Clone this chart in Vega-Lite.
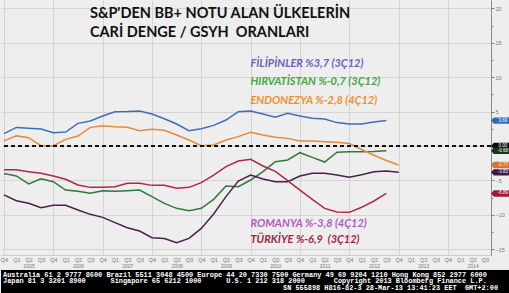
{
  "$schema": "https://vega.github.io/schema/vega-lite/v6.json",
  "width": 490,
  "height": 255,
  "padding": 0,
  "autosize": {"type": "pad"},
  "background": "#eeeeee",
  "config": {
    "view": {"stroke": null, "fill": "#eeeeee"},
    "axis": {"labelFont": "Liberation Sans", "labelColor": "#6a6a6a", "title": null}
  },
  "datasets": {
    "series": [
      {"t": 0, "FIL": 1.8, "END": 0.75, "HIR": -4.0, "ROM": -7.1, "TUR": -3.45},
      {"t": 1, "FIL": 2.7, "END": 1.5, "HIR": -4.35, "ROM": -7.95, "TUR": -3.45},
      {"t": 2, "FIL": 2.57, "END": 1.21, "HIR": -5.5, "ROM": -8.33, "TUR": -3.73},
      {"t": 3, "FIL": 2.47, "END": 0.05, "HIR": -4.75, "ROM": -8.96, "TUR": -3.97},
      {"t": 4, "FIL": 1.94, "END": 0.05, "HIR": -5.18, "ROM": -8.62, "TUR": -4.36},
      {"t": 5, "FIL": 2.03, "END": 0.97, "HIR": -6.4, "ROM": -8.62, "TUR": -4.84},
      {"t": 6, "FIL": 3.29, "END": 1.45, "HIR": -6.59, "ROM": -9.3, "TUR": -5.67},
      {"t": 7, "FIL": 3.63, "END": 2.71, "HIR": -6.88, "ROM": -9.93, "TUR": -6.01},
      {"t": 8, "FIL": 4.36, "END": 2.96, "HIR": -6.49, "ROM": -10.37, "TUR": -6.01},
      {"t": 9, "FIL": 4.99, "END": 2.81, "HIR": -6.59, "ROM": -11.14, "TUR": -5.91},
      {"t": 10, "FIL": 5.0, "END": 2.71, "HIR": -6.49, "ROM": -11.87, "TUR": -5.43},
      {"t": 11, "FIL": 5.09, "END": 2.23, "HIR": -6.4, "ROM": -12.35, "TUR": -5.43},
      {"t": 12, "FIL": 4.65, "END": 2.42, "HIR": -7.36, "ROM": -13.32, "TUR": -5.72},
      {"t": 13, "FIL": 3.97, "END": 2.28, "HIR": -8.33, "ROM": -13.45, "TUR": -5.72},
      {"t": 14, "FIL": 3.2, "END": 1.6, "HIR": -9.06, "ROM": -14.05, "TUR": -6.15},
      {"t": 15, "FIL": 2.23, "END": 0.87, "HIR": -9.4, "ROM": -13.42, "TUR": -6.01},
      {"t": 16, "FIL": 2.52, "END": 0.05, "HIR": -9.06, "ROM": -11.97, "TUR": -5.33},
      {"t": 17, "FIL": 3.0, "END": 0.15, "HIR": -7.75, "ROM": -9.88, "TUR": -4.22},
      {"t": 18, "FIL": 3.78, "END": 0.87, "HIR": -5.81, "ROM": -7.36, "TUR": -3.0},
      {"t": 19, "FIL": 4.99, "END": 1.36, "HIR": -5.91, "ROM": -5.09, "TUR": -2.18},
      {"t": 20, "FIL": 5.09, "END": 1.99, "HIR": -4.94, "ROM": -4.22, "TUR": -1.94},
      {"t": 21, "FIL": 4.65, "END": 1.6, "HIR": -3.73, "ROM": -4.8, "TUR": -2.91},
      {"t": 22, "FIL": 4.17, "END": 1.26, "HIR": -2.28, "ROM": -5.18, "TUR": -3.68},
      {"t": 23, "FIL": 4.75, "END": 1.11, "HIR": -2.03, "ROM": -5.18, "TUR": -5.04},
      {"t": 24, "FIL": 4.36, "END": 0.73, "HIR": -0.97, "ROM": -4.36, "TUR": -6.4},
      {"t": 25, "FIL": 4.02, "END": 0.73, "HIR": -1.65, "ROM": -3.97, "TUR": -7.75},
      {"t": 26, "FIL": 3.92, "END": 0.63, "HIR": -2.33, "ROM": -3.97, "TUR": -9.06},
      {"t": 27, "FIL": 3.4, "END": 0.55, "HIR": -0.9, "ROM": -4.22, "TUR": -9.6},
      {"t": 28, "FIL": 3.2, "END": 0.35, "HIR": -0.82, "ROM": -4.55, "TUR": -9.64},
      {"t": 29, "FIL": 3.2, "END": -0.5, "HIR": -0.82, "ROM": -4.17, "TUR": -8.91},
      {"t": 30, "FIL": 3.5, "END": -1.35, "HIR": -0.78, "ROM": -3.73, "TUR": -7.99},
      {"t": 31, "FIL": 3.69, "END": -2.1, "HIR": -0.68, "ROM": -3.63, "TUR": -6.89},
      {"t": 32, "END": -2.77, "ROM": -3.83}
    ],
    "tags": [
      {"k": "FIL", "v": 3.69, "lab": "3.69"},
      {"k": "ZERO", "v": 0, "lab": "0.00"},
      {"k": "HIR", "v": -0.68, "lab": "-0.68"},
      {"k": "END", "v": -2.77, "lab": "-2.77"},
      {"k": "ROM", "v": -3.83, "lab": "-3.83"},
      {"k": "TUR", "v": -6.89, "lab": "-6.89"}
    ]
  },
  "resolve": {"axis": {"x": "independent", "y": "independent"}, "scale": {"color": "independent"}},
  "layer": [
    {
      "data": {"values": [{}]},
      "mark": {"type": "point", "opacity": 0},
      "encoding": {
        "x": {"datum": 0, "type": "quantitative", "scale": {"domain": [-0.243, 39.49], "nice": false, "zero": false},
          "axis": {"orient": "bottom", "values": [2, 6, 10, 14, 18, 22, 26, 30, 34, 38], "labelExpr": "'' + (2005 + (datum.value - 2) / 4)", "ticks": false, "domain": false, "grid": false, "labelPadding": 8, "labelFontSize": 5, "labelColor": "#777777"}},
        "y": {"datum": 0, "type": "quantitative", "scale": {"domain": [-15.84, 21.22], "nice": false, "zero": false},
          "axis": {"orient": "right", "values": [-12.5, -7.5, -2.5, 2.5, 7.5, 12.5, 17.5], "labels": false, "grid": false, "domain": false, "ticks": true, "tickSize": 2, "tickColor": "#888888"}}
      }
    },
    {
      "data": {"name": "series"},
      "transform": [
        {"fold": ["FIL", "HIR", "END", "ROM", "TUR"], "as": ["c", "v"]},
        {"filter": "isValid(datum.v)"}
      ],
      "mark": {"type": "line", "strokeWidth": 1.5},
      "encoding": {
        "x": {"field": "t", "type": "quantitative", "scale": {"domain": [-0.243, 39.49], "nice": false, "zero": false},
          "axis": {"orient": "bottom", "values": [0,1,2,3,4,5,6,7,8,9,10,11,12,13,14,15,16,17,18,19,20,21,22,23,24,25,26,27,28,29,30,31,32,33,34,35,36,37,38,39],
            "labelExpr": "'Q' + ((datum.value + 3) % 4 + 1)", "ticks": false, "domain": true, "domainColor": "#cccccc", "labelPadding": 2, "labelFontSize": 5.5, "labelColor": "#777777",
            "grid": true, "gridColor": "#d4d4d4", "gridOpacity": {"condition": {"test": "datum.value % 4 === 0", "value": 1}, "value": 0}}},
        "y": {"field": "v", "type": "quantitative", "scale": {"domain": [-15.84, 21.22], "nice": false, "zero": false},
          "axis": {"orient": "right", "values": [-15, -10, -5, 0, 5, 10, 15, 20], "labelExpr": "datum.value == 0 ? '' : datum.label", "grid": true, "gridColor": "#d4d4d4",
            "domain": true, "domainColor": "#8a8a8a", "tickSize": 3, "tickColor": "#777777", "labelFontSize": 5.5, "labelPadding": 1, "labelColor": "#777777"}},
        "color": {"field": "c", "type": "nominal", "legend": null,
          "scale": {"domain": ["FIL", "HIR", "END", "ROM", "TUR"], "range": ["#3c6fb6", "#2f7a37", "#e8883a", "#4a1f48", "#ac284c"]}}
      }
    },
    {
      "data": {"values": [{}]},
      "mark": {"type": "rule", "color": "#111111", "strokeDash": [4, 3], "strokeWidth": 2},
      "encoding": {
        "y": {"datum": 0, "type": "quantitative", "scale": {"domain": [-15.84, 21.22], "nice": false, "zero": false}, "axis": null}
      }
    },
    {
      "data": {"name": "tags"},
      "mark": {"type": "point", "filled": true, "opacity": 1, "size": 361, "shape": "M -1 0 L -0.72 -0.34 L 1 -0.34 L 1 0.34 L -0.72 0.34 Z"},
      "encoding": {
        "x": {"datum": 40.27, "type": "quantitative", "scale": {"domain": [-0.243, 39.49], "nice": false, "zero": false}, "axis": null},
        "y": {"field": "v", "type": "quantitative", "scale": {"domain": [-15.84, 21.22], "nice": false, "zero": false}, "axis": null},
        "color": {"field": "k", "type": "nominal", "legend": null,
          "scale": {"domain": ["FIL", "ZERO", "HIR", "END", "ROM", "TUR"], "range": ["#2b6cb4", "#0c0c0c", "#15361a", "#e0702a", "#3a1840", "#9e1a32"]}}
      }
    },
    {
      "data": {"name": "tags"},
      "mark": {"type": "text", "fontSize": 4.5, "font": "Liberation Sans", "color": "#ffffff", "align": "center", "baseline": "middle"},
      "encoding": {
        "x": {"datum": 40.45, "type": "quantitative", "scale": {"domain": [-0.243, 39.49], "nice": false, "zero": false}, "axis": null},
        "y": {"field": "v", "type": "quantitative", "scale": {"domain": [-15.84, 21.22], "nice": false, "zero": false}, "axis": null},
        "text": {"field": "lab"}
      }
    },
    {
      "data": {"values": [{}]},
      "mark": {"type": "text", "text": "S&P'DEN BB+ NOTU ALAN ÜLKELERİN", "font": "Lato", "fontWeight": "bold", "fontSize": 14.5, "color": "#111111", "align": "left", "baseline": "alphabetic"},
      "encoding": {
        "x": {"datum": 6.97, "type": "quantitative", "scale": {"domain": [-0.243, 39.49], "nice": false, "zero": false}, "axis": null},
        "y": {"datum": 18.56, "type": "quantitative", "scale": {"domain": [-15.84, 21.22], "nice": false, "zero": false}, "axis": null}
      }
    },
    {
      "data": {"values": [{}]},
      "mark": {"type": "text", "text": "CARİ DENGE / GSYH\u00a0\u00a0ORANLARI", "font": "Lato", "fontWeight": "bold", "fontSize": 14.5, "color": "#111111", "align": "left", "baseline": "alphabetic"},
      "encoding": {
        "x": {"datum": 6.97, "type": "quantitative", "scale": {"domain": [-0.243, 39.49], "nice": false, "zero": false}, "axis": null},
        "y": {"datum": 15.8, "type": "quantitative", "scale": {"domain": [-15.84, 21.22], "nice": false, "zero": false}, "axis": null}
      }
    },
    {
      "data": {"values": [{}]},
      "mark": {"type": "text", "text": "FİLİPİNLER %3,7 (3Ç12)", "font": "Lato", "fontWeight": "bold", "fontStyle": "italic", "fontSize": 11, "color": "#6a62b8", "align": "left", "baseline": "alphabetic"},
      "encoding": {
        "x": {"datum": 19.98, "type": "quantitative", "scale": {"domain": [-0.243, 39.49], "nice": false, "zero": false}, "axis": null},
        "y": {"datum": 11.44, "type": "quantitative", "scale": {"domain": [-15.84, 21.22], "nice": false, "zero": false}, "axis": null}
      }
    },
    {
      "data": {"values": [{}]},
      "mark": {"type": "text", "text": "HIRVATİSTAN %-0,7 (3Ç12)", "font": "Lato", "fontWeight": "bold", "fontStyle": "italic", "fontSize": 11, "color": "#45a445", "align": "left", "baseline": "alphabetic"},
      "encoding": {
        "x": {"datum": 19.98, "type": "quantitative", "scale": {"domain": [-0.243, 39.49], "nice": false, "zero": false}, "axis": null},
        "y": {"datum": 8.82, "type": "quantitative", "scale": {"domain": [-15.84, 21.22], "nice": false, "zero": false}, "axis": null}
      }
    },
    {
      "data": {"values": [{}]},
      "mark": {"type": "text", "text": "ENDONEZYA %-2,8 (4Ç12)", "font": "Lato", "fontWeight": "bold", "fontStyle": "italic", "fontSize": 11, "color": "#ee8e2e", "align": "left", "baseline": "alphabetic"},
      "encoding": {
        "x": {"datum": 19.98, "type": "quantitative", "scale": {"domain": [-0.243, 39.49], "nice": false, "zero": false}, "axis": null},
        "y": {"datum": 6.15, "type": "quantitative", "scale": {"domain": [-15.84, 21.22], "nice": false, "zero": false}, "axis": null}
      }
    },
    {
      "data": {"values": [{}]},
      "mark": {"type": "text", "text": "ROMANYA %-3,8 (4Ç12)", "font": "Lato", "fontWeight": "bold", "fontStyle": "italic", "fontSize": 11, "color": "#b15cc0", "align": "left", "baseline": "alphabetic"},
      "encoding": {
        "x": {"datum": 19.98, "type": "quantitative", "scale": {"domain": [-0.243, 39.49], "nice": false, "zero": false}, "axis": null},
        "y": {"datum": -11.82, "type": "quantitative", "scale": {"domain": [-15.84, 21.22], "nice": false, "zero": false}, "axis": null}
      }
    },
    {
      "data": {"values": [{}]},
      "mark": {"type": "text", "text": "TÜRKİYE %-6,9\u00a0\u00a0(3Ç12)", "font": "Lato", "fontWeight": "bold", "fontStyle": "italic", "fontSize": 11, "color": "#a8233c", "align": "left", "baseline": "alphabetic"},
      "encoding": {
        "x": {"datum": 19.98, "type": "quantitative", "scale": {"domain": [-0.243, 39.49], "nice": false, "zero": false}, "axis": null},
        "y": {"datum": -14.05, "type": "quantitative", "scale": {"domain": [-15.84, 21.22], "nice": false, "zero": false}, "axis": null}
      }
    },
    {
      "data": {"values": [{}]},
      "mark": {"type": "rect", "color": "#000000"},
      "encoding": {
        "x": {"datum": -0.243, "type": "quantitative", "scale": {"domain": [-0.243, 39.49], "nice": false, "zero": false}, "axis": null},
        "x2": {"datum": 41.04},
        "y": {"datum": -18.02, "type": "quantitative", "scale": {"domain": [-15.84, 21.22], "nice": false, "zero": false}, "axis": null},
        "y2": {"datum": -21.36}
      }
    },
    {
      "data": {"values": [{}]},
      "mark": {"type": "text", "text": "Australia 61 2 9777 8600 Brazil 5511 3048 4500 Europe 44 20 7330 7500 Germany 49 69 9204 1210 Hong Kong 852 2977 6000", "font": "Liberation Mono", "fontWeight": "bold", "fontSize": 6.9, "color": "#ffffff", "align": "left", "baseline": "alphabetic"},
      "encoding": {
        "x": {"datum": -0.08, "type": "quantitative", "scale": {"domain": [-0.243, 39.49], "nice": false, "zero": false}, "axis": null},
        "y": {"datum": -18.97, "type": "quantitative", "scale": {"domain": [-15.84, 21.22], "nice": false, "zero": false}, "axis": null}
      }
    },
    {
      "data": {"values": [{}]},
      "mark": {"type": "text", "text": "Japan 81 3 3201 8900\u00a0\u00a0\u00a0\u00a0\u00a0\u00a0Singapore 65 6212 1000\u00a0\u00a0\u00a0\u00a0\u00a0\u00a0U.S. 1 212 318 2000\u00a0\u00a0\u00a0\u00a0\u00a0\u00a0\u00a0Copyright 2013 Bloomberg Finance L.P.", "font": "Liberation Mono", "fontWeight": "bold", "fontSize": 6.9, "color": "#ffffff", "align": "left", "baseline": "alphabetic"},
      "encoding": {
        "x": {"datum": -0.08, "type": "quantitative", "scale": {"domain": [-0.243, 39.49], "nice": false, "zero": false}, "axis": null},
        "y": {"datum": -19.98, "type": "quantitative", "scale": {"domain": [-15.84, 21.22], "nice": false, "zero": false}, "axis": null}
      }
    },
    {
      "data": {"values": [{}]},
      "mark": {"type": "text", "text": "SN 555898 H816-82-3 28-Mar-13 13:41:23 EET\u00a0\u00a0GMT+2:00", "font": "Liberation Mono", "fontWeight": "bold", "fontSize": 6.9, "color": "#ffffff", "align": "right", "baseline": "alphabetic"},
      "encoding": {
        "x": {"datum": 40.06, "type": "quantitative", "scale": {"domain": [-0.243, 39.49], "nice": false, "zero": false}, "axis": null},
        "y": {"datum": -20.93, "type": "quantitative", "scale": {"domain": [-15.84, 21.22], "nice": false, "zero": false}, "axis": null}
      }
    }
  ]
}
